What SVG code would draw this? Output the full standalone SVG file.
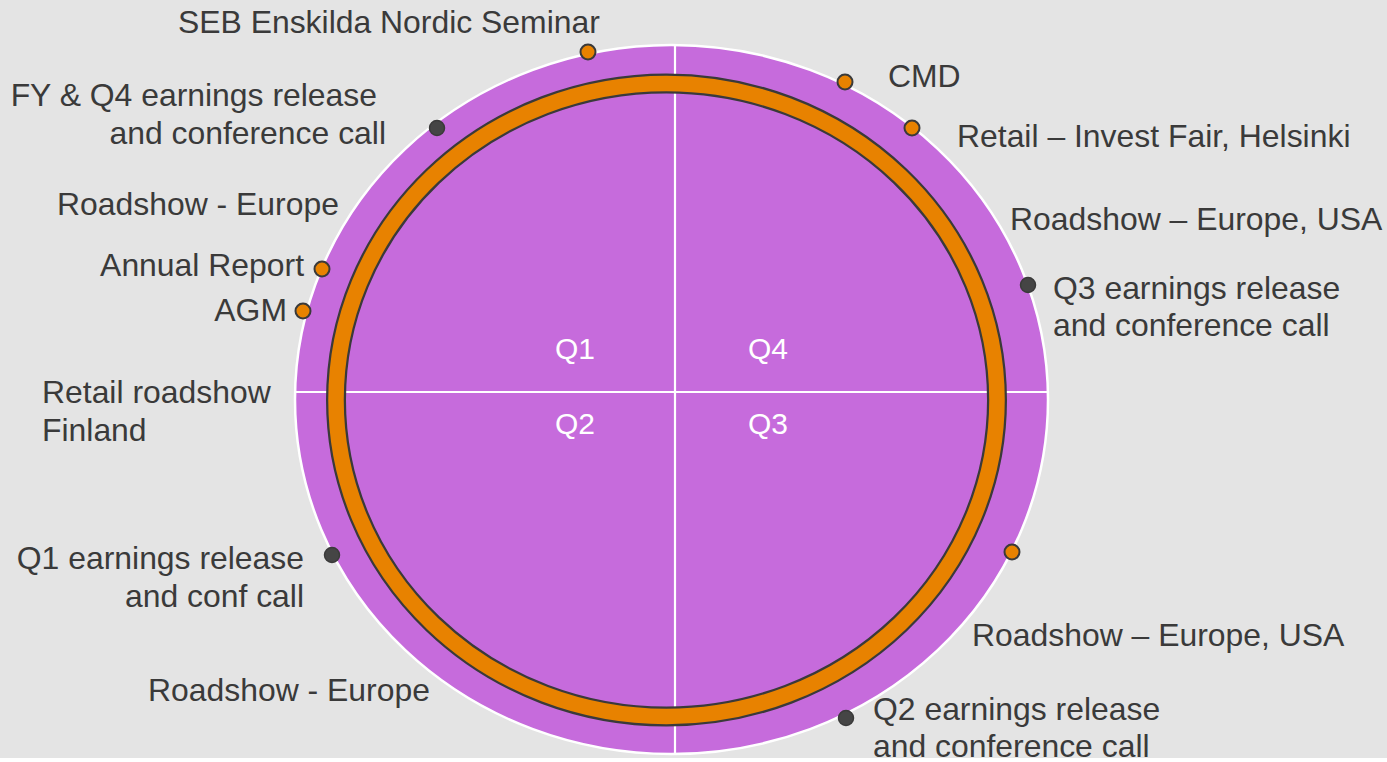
<svg xmlns="http://www.w3.org/2000/svg" width="1387" height="762" viewBox="0 0 1387 762">
<style>
.lbl{font-family:"Liberation Sans",Arial,sans-serif;font-size:31.9px;fill:#3a3a3a}
.q{font-family:"Liberation Sans",Arial,sans-serif;font-size:30px;fill:#ffffff}
.e{text-anchor:end}
.od{fill:#e88200;stroke:#3a3a3a;stroke-width:2}
.dd{fill:#454545;stroke:#3a3a3a;stroke-width:1.5}
</style>
<rect x="0" y="0" width="1387" height="762" fill="#e4e4e4"/>
<rect x="0" y="758" width="1387" height="4" fill="#ffffff"/>
<g id="wheel">
<ellipse cx="671.5" cy="399.5" rx="376.5" ry="354.5" fill="#c66bdc" stroke="#ffffff" stroke-width="2.5"/>
</g>
<g id="dividers">
<line x1="675" y1="45" x2="675" y2="754" stroke="#ffffff" stroke-width="2.2"/>
<line x1="295" y1="392" x2="1048" y2="392" stroke="#ffffff" stroke-width="2.2"/>
</g>
<g id="ring">
<ellipse cx="666.5" cy="400" rx="330.5" ry="316.5" fill="none" stroke="#3a3a3a" stroke-width="20"/>
<ellipse cx="666.5" cy="400" rx="330.5" ry="316.5" fill="none" stroke="#e88200" stroke-width="15.5"/>
</g>
<g id="quarters">
<text class="q" x="555" y="359">Q1</text>
<text class="q" x="748" y="359">Q4</text>
<text class="q" x="555" y="434">Q2</text>
<text class="q" x="748" y="434">Q3</text>
</g>
<g id="seb"><circle class="od" cx="588" cy="52" r="7.5"/><text class="lbl" x="178" y="33">SEB Enskilda Nordic Seminar</text></g>
<g id="fy-q4"><circle class="dd" cx="437" cy="128" r="7.5"/><text class="lbl e" x="377" y="106">FY &amp; Q4 earnings release</text><text class="lbl e" x="386" y="144">and conference call</text></g>
<g id="roadshow-europe-1"><text class="lbl" x="57" y="215">Roadshow - Europe</text></g>
<g id="annual-report"><circle class="od" cx="322" cy="269" r="7.5"/><text class="lbl e" x="304" y="276">Annual Report</text></g>
<g id="agm"><circle class="od" cx="303" cy="311" r="7.5"/><text class="lbl e" x="287" y="321">AGM</text></g>
<g id="retail-roadshow"><text class="lbl" x="42" y="403">Retail roadshow</text><text class="lbl" x="42" y="441">Finland</text></g>
<g id="q1"><circle class="dd" cx="332" cy="555" r="7.5"/><text class="lbl e" x="304" y="569">Q1 earnings release</text><text class="lbl e" x="304" y="607">and conf call</text></g>
<g id="roadshow-europe-2"><text class="lbl" x="148" y="701">Roadshow - Europe</text></g>
<g id="cmd"><circle class="od" cx="845" cy="82" r="7.5"/><text class="lbl" x="888" y="87">CMD</text></g>
<g id="retail-fair"><circle class="od" cx="912" cy="128" r="7.5"/><text class="lbl" x="957" y="147">Retail – Invest Fair, Helsinki</text></g>
<g id="roadshow-eu-usa-1"><text class="lbl" x="1010" y="230">Roadshow – Europe, USA</text></g>
<g id="q3"><circle class="dd" cx="1028" cy="285" r="7.5"/><text class="lbl" x="1053" y="299">Q3 earnings release</text><text class="lbl" x="1053" y="336">and conference call</text></g>
<g id="roadshow-eu-usa-2"><circle class="od" cx="1012" cy="552" r="7.5"/><text class="lbl" x="972" y="646">Roadshow – Europe, USA</text></g>
<g id="q2"><circle class="dd" cx="846" cy="718" r="7.5"/><text class="lbl" x="873" y="720">Q2 earnings release</text><text class="lbl" x="873" y="757">and conference call</text></g>
</svg>
